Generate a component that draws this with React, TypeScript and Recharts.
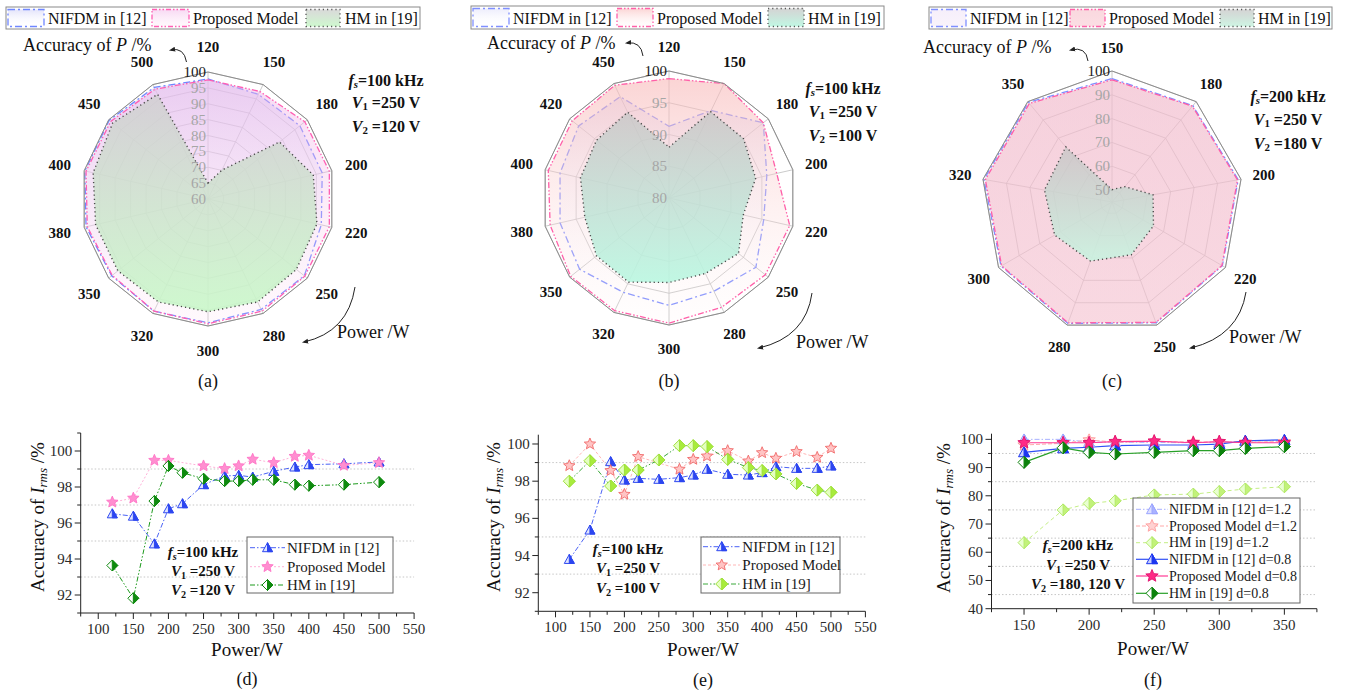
import React from 'react';
import {
  RadarChart, Radar, PolarGrid, PolarAngleAxis, PolarRadiusAxis,
  LineChart, Line, XAxis, YAxis, ReferenceLine,
} from 'recharts';

const FONT = '"Liberation Serif", "Times New Roman", Times, serif';

// ===== (a) radar: fs=100 kHz, V1=250 V, V2=120 V =====
const powerA = [120, 150, 180, 200, 220, 250, 280, 300, 320, 350, 380, 400, 450, 500];
const nifdmA = [97.8, 96.6, 97.0, 96.9, 96.6, 98.8, 98.6, 99.0, 99.2, 98.8, 99.4, 99.8, 99.8, 99.0];
const proposedA = [97.5, 97.6, 99.0, 99.2, 99.2, 99.0, 99.2, 99.3, 99.2, 98.6, 99.0, 99.4, 99.2, 98.4];
const hmA = [65.0, 70.1, 88.8, 94.0, 95.2, 95.6, 96.0, 95.5, 96.0, 96.3, 96.3, 97.1, 98.4, 96.6];
const rTicksA = [60, 65, 70, 75, 80, 85, 90, 95, 100];

// ===== (b) radar: fs=100 kHz, V1=250 V, V2=100 V =====
const powerB = [120, 150, 180, 200, 220, 250, 280, 300, 320, 350, 380, 400, 420, 450];
const nifdmB = [91.3, 95.3, 99.0, 95.8, 95.3, 97.5, 96.3, 96.9, 96.5, 98.0, 97.6, 97.6, 98.2, 97.7];
const proposedB = [98.8, 100.0, 99.0, 97.4, 99.5, 99.4, 99.1, 99.7, 99.7, 99.8, 99.2, 99.5, 99.5, 99.7];
const hmB = [88.0, 95.1, 95.0, 94.0, 92.0, 94.0, 93.2, 93.3, 94.7, 94.6, 93.6, 94.3, 94.6, 95.0];
const rTicksB = [80, 85, 90, 95, 100];

// ===== (c) radar: fs=200 kHz, V1=250 V, V2=180 V =====
const powerC = [150, 180, 200, 220, 250, 280, 300, 320, 350];
const nifdmC = [96.8, 97.8, 98.8, 98.5, 99.0, 99.2, 98.8, 99.6, 99.6];
const proposedC = [96.3, 97.5, 98.5, 98.3, 98.8, 99.0, 98.5, 99.0, 99.0];
const hmC = [50.2, 53.4, 62.5, 65.1, 68.6, 71.4, 72.8, 73.8, 75.2];
const rTicksC = [50, 60, 70, 80, 90, 100];

// ===== (d) line: fs=100 kHz, V2=120 V =====
const powerD = [120, 150, 180, 200, 220, 250, 280, 300, 320, 350, 380, 400, 450, 500];
const nifdmD = [96.51, 96.38, 94.84, 96.79, 97.07, 98.13, 98.61, 98.65, 98.55, 98.87, 99.11, 99.24, 99.29, 99.39];
const powerDProposed = [120, 150, 180, 200, 250, 280, 300, 320, 350, 380, 400, 450, 500];
const proposedD = [97.16, 97.38, 99.48, 99.48, 99.17, 99.02, 99.17, 99.54, 99.35, 99.70, 99.76, 99.20, 99.35];
const hmD = [93.64, 91.82, 97.22, 99.17, 98.79, 98.46, 98.33, 98.33, 98.40, 98.40, 98.13, 98.07, 98.13, 98.27];

// ===== (e) line: fs=100 kHz, V2=100 V =====
const powerE = [120, 150, 180, 200, 220, 250, 280, 300, 320, 350, 380, 400, 420, 450, 480, 500];
const nifdmE = [93.79, 95.37, 99.05, 98.06, 98.15, 98.10, 98.19, 98.33, 98.64, 98.37, 98.33, 98.46, 98.78, 98.69, 98.69, 98.82];
const powerEProposed = [120, 150, 180, 200, 220, 280, 300, 320, 350, 380, 400, 420, 450, 480, 500];
const proposedE = [98.83, 100.0, 98.57, 97.29, 99.32, 98.64, 99.17, 99.35, 99.64, 99.08, 99.53, 99.23, 99.59, 99.28, 99.77];
const hmE = [98.0, 99.1, 97.74, 98.6, 98.6, 99.14, 99.91, 99.91, 99.86, 99.17, 98.73, 98.57, 98.39, 97.88, 97.52, 97.40];

// ===== (f) line: fs=200 kHz, V2=180, 120 V =====
const powerF = [150, 180, 200, 220, 250, 280, 300, 320, 350];
const nifdm12F = [100.0, 100.0, 99.0, 99.0, 98.9, 98.8, 99.0, 99.3, 99.6];
const proposed12F = [98.0, 98.6, 99.8, 99.0, 99.2, 99.0, 99.1, 99.0, 99.2];
const hm12F = [63.4, 75.0, 77.3, 78.2, 80.3, 80.6, 81.5, 82.4, 83.2];
const nifdm08F = [95.4, 96.8, 97.2, 97.8, 98.0, 98.0, 98.3, 99.5, 99.8];
const proposed08F = [98.8, 98.8, 98.8, 99.2, 99.4, 98.8, 99.2, 98.8, 98.8];
const hm08F = [91.85, 97.0, 95.4, 94.8, 95.4, 96.0, 96.0, 96.8, 97.4];

// ===== axis ticks =====
const xTicksDE = [75, 100, 125, 150, 175, 200, 225, 250, 275, 300, 325, 350, 375, 400, 425, 450, 475, 500, 525, 550];
const xLabelsDE = [100, 150, 200, 250, 300, 350, 400, 450, 500, 550];
const yTicksD = [91, 92, 93, 94, 95, 96, 97, 98, 99, 100, 101];
const yTicksE = [91, 92, 93, 94, 95, 96, 97, 98, 99, 100];
const yLabelsDE = [92, 94, 96, 98, 100];
const gridDE = [93, 95, 97, 99];
const xTicksF = [125, 150, 175, 200, 225, 250, 275, 300, 325, 350, 375];
const xLabelsF = [150, 200, 250, 300, 350];
const yTicksF = [40, 45, 50, 55, 60, 65, 70, 75, 80, 85, 90, 95, 100];
const yLabelsF = [40, 50, 60, 70, 80, 90, 100];
const gridF = [45, 55, 65, 75, 85, 95];

// ---------------------------------------------------------------
type Grad = { top: string; topOp: number; bottom: string; botOp: number };

function GradDef({ id, g }: { id: string; g: Grad }) {
  return (
    <linearGradient id={id} x1="0" y1="0" x2="0" y2="1">
      <stop offset="0" stopColor={g.top} stopOpacity={g.topOp} />
      <stop offset="1" stopColor={g.bottom} stopOpacity={g.botOp} />
    </linearGradient>
  );
}

const NIFDM_DASH = '7 3 2 3';
const PROP_DASH = '6 2 1.5 2 1.5 2';
const HM_DASH = '1.2 3';

type RadarSpec = {
  id: string; L: number; T: number; W: number; H: number;
  cx: number; cy: number; R: number; labR: number;
  cats: number[]; nifdm: number[]; prop: number[]; hm: number[];
  domain: [number, number]; rticks: number[];
  n: Grad; m: Grad; h: Grad; nStroke: string; mStroke: string;
};

const radarA: RadarSpec = {
  id: 'ra', L: 0, T: 0, W: 450, H: 400, cx: 208, cy: 199, R: 127, labR: 152,
  cats: powerA, nifdm: nifdmA, prop: proposedA, hm: hmA, domain: [60, 100], rticks: rTicksA,
  n: { top: '#c8c8f6', topOp: 0.5, bottom: '#ffffff', botOp: 0.05 },
  m: { top: '#f0b4e8', topOp: 0.5, bottom: '#ffd8f0', botOp: 0.15 },
  h: { top: '#cfcfcf', topOp: 0.78, bottom: '#c8f8c8', botOp: 0.88 },
  nStroke: '#6f86ff', mStroke: '#ff5fb4',
};
const radarB: RadarSpec = {
  id: 'rb', L: 450, T: 0, W: 450, H: 400, cx: 219, cy: 198, R: 127, labR: 151,
  cats: powerB, nifdm: nifdmB, prop: proposedB, hm: hmB, domain: [80, 100], rticks: rTicksB,
  n: { top: '#d0d0f8', topOp: 0.4, bottom: '#ffffff', botOp: 0.0 },
  m: { top: '#f8b8b8', topOp: 0.6, bottom: '#fff0f0', botOp: 0.1 },
  h: { top: '#c6c6c6', topOp: 0.75, bottom: '#b8f7e0', botOp: 0.88 },
  nStroke: '#7f8fff', mStroke: '#ff5fa8',
};
const radarC: RadarSpec = {
  id: 'rc', L: 900, T: 0, W: 450, H: 400, cx: 212, cy: 202, R: 131, labR: 154,
  cats: powerC, nifdm: nifdmC, prop: proposedC, hm: hmC, domain: [45, 100], rticks: rTicksC,
  n: { top: '#e0c8f0', topOp: 0.3, bottom: '#e8d0f0', botOp: 0.25 },
  m: { top: '#f5b8c4', topOp: 0.55, bottom: '#f8bec8', botOp: 0.5 },
  h: { top: '#c4c4c4', topOp: 0.72, bottom: '#c8f4e0', botOp: 0.88 },
  nStroke: '#7f8fff', mStroke: '#ff5fa8',
};

function RadarPanel({ s }: { s: RadarSpec }) {
  const data = s.cats.map((c, i) => ({ p: String(c), n: s.nifdm[i], m: s.prop[i], h: s.hm[i] }));
  const angleTick = (props: any) => {
    const { x, y, payload } = props;
    const dx = x - s.cx;
    const dy = y - s.cy;
    const d = Math.hypot(dx, dy) || 1;
    return (
      <text x={s.cx + (dx / d) * s.labR} y={s.cy + (dy / d) * s.labR} textAnchor="middle"
        dominantBaseline="central" fontFamily={FONT} fontWeight={700} fontSize={15} fill="#111">
        {payload.value}
      </text>
    );
  };
  const radiusTick = (props: any) => {
    const { y, payload } = props;
    const top = payload.value === s.domain[1];
    return (
      <text x={s.cx - 2} y={y} textAnchor="end" dominantBaseline="central" fontFamily={FONT}
        fontSize={15} fill={top ? '#1a1a1a' : '#a6a6a6'}>
        {payload.value}
      </text>
    );
  };
  return (
    <div style={{ position: 'absolute', left: s.L, top: s.T, width: s.W, height: s.H }}>
      <RadarChart width={s.W} height={s.H} cx={s.cx} cy={s.cy} outerRadius={s.R} data={data}
        margin={{ top: 0, right: 0, bottom: 0, left: 0 }} style={{ fontFamily: FONT }}>
        <defs>
          <GradDef id={`${s.id}n`} g={s.n} />
          <GradDef id={`${s.id}m`} g={s.m} />
          <GradDef id={`${s.id}h`} g={s.h} />
        </defs>
        <PolarGrid gridType="polygon" stroke="#bdbdbd" strokeWidth={0.8} />
        <PolarAngleAxis dataKey="p" tick={angleTick} tickLine={false} axisLine={{ stroke: '#8c8c8c', strokeWidth: 1 }} />
        <PolarRadiusAxis angle={90} type="number" domain={s.domain} ticks={s.rticks as any}
          tickCount={s.rticks.length} allowDataOverflow axisLine={false} tickLine={false} tick={radiusTick} />
        <Radar dataKey="n" stroke={s.nStroke} strokeWidth={1.3} strokeDasharray={NIFDM_DASH}
          fill={`url(#${s.id}n)`} fillOpacity={1} isAnimationActive={false} />
        <Radar dataKey="m" stroke={s.mStroke} strokeWidth={1.3} strokeDasharray={PROP_DASH}
          fill={`url(#${s.id}m)`} fillOpacity={1} isAnimationActive={false} />
        <Radar dataKey="h" stroke="#4a4a4a" strokeWidth={1.4} strokeDasharray={HM_DASH}
          fill={`url(#${s.id}h)`} fillOpacity={1} isAnimationActive={false} />
      </RadarChart>
    </div>
  );
}

// ---------------------------------------------------------------
type MarkerStyle = { shape: 'tri' | 'star' | 'dia'; stroke: string; fill: string; half?: string; size: number };

function starPts(cx: number, cy: number, R: number): string {
  const r = R * 0.45;
  const pts: string[] = [];
  for (let i = 0; i < 10; i++) {
    const a = -Math.PI / 2 + (i * Math.PI) / 5;
    const rr = i % 2 === 0 ? R : r;
    pts.push(`${(cx + rr * Math.cos(a)).toFixed(2)},${(cy + rr * Math.sin(a)).toFixed(2)}`);
  }
  return pts.join(' ');
}

function Marker({ cx, cy, m }: { cx: number; cy: number; m: MarkerStyle }) {
  const s = m.size;
  if (m.shape === 'star') {
    return <polygon points={starPts(cx, cy, s)} fill={m.fill} stroke={m.stroke} strokeWidth={0.9} strokeLinejoin="round" />;
  }
  if (m.shape === 'tri') {
    const b = cy + s * 0.8;
    const t = cy - s;
    return (
      <g>
        <polygon points={`${cx},${t} ${cx + s},${b} ${cx - s},${b}`} fill={m.half ?? m.fill} stroke={m.stroke} strokeWidth={1} strokeLinejoin="round" />
        {m.half && <polygon points={`${cx},${t} ${cx + s},${b} ${cx},${b}`} fill={m.fill} stroke={m.stroke} strokeWidth={1} strokeLinejoin="round" />}
      </g>
    );
  }
  return (
    <g>
      <polygon points={`${cx},${cy - s} ${cx + s},${cy} ${cx},${cy + s} ${cx - s},${cy}`} fill={m.half ?? m.fill} stroke={m.stroke} strokeWidth={1} />
      {m.half && <polygon points={`${cx},${cy - s} ${cx + s},${cy} ${cx},${cy + s}`} fill={m.fill} stroke={m.stroke} strokeWidth={1} />}
    </g>
  );
}

type SeriesSpec = { key: string; x: number[]; y: number[]; stroke: string; dash?: string; width: number; marker: MarkerStyle; label: string };

// styles
const triBlue: MarkerStyle = { shape: 'tri', stroke: '#2c46f0', fill: '#2c46f0', half: '#dfe4ff', size: 5 };
const starPinkD: MarkerStyle = { shape: 'star', stroke: '#ff74c6', fill: '#ff8ed0', size: 6 };
const diaGreenD: MarkerStyle = { shape: 'dia', stroke: '#0e8a0e', fill: '#0e8a0e', half: '#ffffff', size: 5.5 };
const starRedE: MarkerStyle = { shape: 'star', stroke: '#f06a6a', fill: '#ffc4c4', size: 6 };
const diaLimeE: MarkerStyle = { shape: 'dia', stroke: '#9ee03a', fill: '#a8ec3c', half: '#e4ffc0', size: 6 };
const triLight: MarkerStyle = { shape: 'tri', stroke: '#9aa4ff', fill: '#aab2ff', half: '#dde0ff', size: 5.5 };
const starLight: MarkerStyle = { shape: 'star', stroke: '#ff9c9c', fill: '#ffd2d2', size: 6.5 };
const diaLight: MarkerStyle = { shape: 'dia', stroke: '#b4ea6a', fill: '#c2f27a', half: '#e8ffd0', size: 6 };
const triDark: MarkerStyle = { shape: 'tri', stroke: '#1c36f0', fill: '#1c36f0', half: '#c8d0ff', size: 5.5 };
const starMag: MarkerStyle = { shape: 'star', stroke: '#e0106c', fill: '#ff2a86', size: 6.5 };
const diaDark: MarkerStyle = { shape: 'dia', stroke: '#0c820c', fill: '#0c820c', half: '#ffffff', size: 6 };

const seriesD: SeriesSpec[] = [
  { key: 'nd', x: powerD, y: nifdmD, stroke: '#4a62f5', dash: '5 2 1.5 2', width: 1, marker: triBlue, label: 'NIFDM in [12]' },
  { key: 'pd', x: powerDProposed, y: proposedD, stroke: '#ffb0d8', dash: '2 2', width: 1, marker: starPinkD, label: 'Proposed Model' },
  { key: 'hd', x: powerD, y: hmD, stroke: '#1c9a1c', dash: '5 2 1.5 2 1.5 2', width: 1, marker: diaGreenD, label: 'HM in [19]' },
];
const seriesE: SeriesSpec[] = [
  { key: 'ne', x: powerE, y: nifdmE, stroke: '#4a62f5', dash: '5 2 1.5 2', width: 1, marker: triBlue, label: 'NIFDM in [12]' },
  { key: 'pe', x: powerEProposed, y: proposedE, stroke: '#ffb6b6', dash: '3 2', width: 1, marker: starRedE, label: 'Proposed Model' },
  { key: 'he', x: powerE, y: hmE, stroke: '#3aa83a', dash: '5 2 1.5 2 1.5 2', width: 1, marker: diaLimeE, label: 'HM in [19]' },
];
const seriesF: SeriesSpec[] = [
  { key: 'n12', x: powerF, y: nifdm12F, stroke: '#a8b0ff', dash: '5 2 1.5 2', width: 1, marker: triLight, label: 'NIFDM in [12] d=1.2' },
  { key: 'p12', x: powerF, y: proposed12F, stroke: '#ffa8a8', dash: '4 2', width: 1, marker: starLight, label: 'Proposed Model d=1.2' },
  { key: 'h12', x: powerF, y: hm12F, stroke: '#c4ee86', dash: '4 3', width: 1, marker: diaLight, label: 'HM in [19] d=1.2' },
  { key: 'n08', x: powerF, y: nifdm08F, stroke: '#3050f5', width: 1.2, marker: triDark, label: 'NIFDM in [12] d=0.8' },
  { key: 'p08', x: powerF, y: proposed08F, stroke: '#ff3a94', width: 1.2, marker: starMag, label: 'Proposed Model d=0.8' },
  { key: 'h08', x: powerF, y: hm08F, stroke: '#28a028', width: 1.2, marker: diaDark, label: 'HM in [19] d=0.8' },
];

type LineSpec = {
  L: number; T: number; W: number; H: number;
  plot: { l: number; r: number; t: number; b: number };
  xDomain: [number, number]; xTicks: number[]; xLabels: number[];
  yDomain: [number, number]; yTicks: number[]; yLabels: number[];
  grid: number[]; series: SeriesSpec[];
};

const lineD: LineSpec = {
  L: 0, T: 420, W: 445, H: 245, plot: { l: 80.7, r: 414.1, t: 433, b: 613 },
  xDomain: [75, 550], xTicks: xTicksDE, xLabels: xLabelsDE,
  yDomain: [91, 101], yTicks: yTicksD, yLabels: yLabelsDE, grid: gridDE, series: seriesD,
};
const lineE: LineSpec = {
  L: 450, T: 420, W: 445, H: 245, plot: { l: 538.3, r: 865.4, t: 434.7, b: 611.3 },
  xDomain: [75, 550], xTicks: xTicksDE, xLabels: xLabelsDE,
  yDomain: [91, 100.5], yTicks: yTicksE, yLabels: yLabelsDE, grid: gridDE, series: seriesE,
};
const lineF: LineSpec = {
  L: 900, T: 420, W: 445, H: 245, plot: { l: 991.5, r: 1316.9, t: 433.7, b: 608.7 },
  xDomain: [125, 375], xTicks: xTicksF, xLabels: xLabelsF,
  yDomain: [40, 102], yTicks: yTicksF, yLabels: yLabelsF, grid: gridF, series: seriesF,
};

function LinePanel({ s }: { s: LineSpec }) {
  const YW = 40;
  const XH = 30;
  const margin = {
    left: s.plot.l - s.L - YW,
    top: s.plot.t - s.T,
    right: s.L + s.W - s.plot.r,
    bottom: s.T + s.H - s.plot.b - XH,
  };
  const xTick = (props: any) => {
    const { x, y, payload } = props;
    const major = s.xLabels.includes(payload.value);
    return (
      <g>
        <line x1={x} x2={x} y1={y} y2={y + (major ? 6 : 3.5)} stroke="#222" strokeWidth={1} />
        {major && (
          <text x={x} y={y + 16} textAnchor="middle" dominantBaseline="central" fontFamily={FONT} fontSize={15} fill="#2a2a2a">
            {payload.value}
          </text>
        )}
      </g>
    );
  };
  const yTick = (props: any) => {
    const { x, y, payload } = props;
    const major = s.yLabels.includes(payload.value);
    return (
      <g>
        <line x1={x} x2={x - (major ? 6 : 3.5)} y1={y} y2={y} stroke="#222" strokeWidth={1} />
        {major && (
          <text x={x - 8.5} y={y} textAnchor="end" dominantBaseline="central" fontFamily={FONT} fontSize={15} fill="#2a2a2a">
            {payload.value}
          </text>
        )}
      </g>
    );
  };
  return (
    <div style={{ position: 'absolute', left: s.L, top: s.T, width: s.W, height: s.H }}>
      <LineChart width={s.W} height={s.H} margin={margin} style={{ fontFamily: FONT }}>
        <XAxis type="number" dataKey="p" domain={s.xDomain} ticks={s.xTicks} interval={0} allowDataOverflow
          tickSize={0} tickMargin={0} height={XH} axisLine={{ stroke: '#222', strokeWidth: 1 }} tickLine={false} tick={xTick} />
        <YAxis type="number" domain={s.yDomain} ticks={s.yTicks} interval={0} allowDataOverflow
          tickSize={0} tickMargin={0} width={YW} axisLine={{ stroke: '#222', strokeWidth: 1 }} tickLine={false} tick={yTick} />
        {s.grid.map((g) => (
          <ReferenceLine key={`g${g}`} y={g} stroke="#c6c6c6" strokeDasharray="1.5 2" strokeWidth={1} />
        ))}
        {s.series.map((ser) => (
          <Line key={ser.key} name={ser.label} data={ser.x.map((p, i) => ({ p, v: ser.y[i] }))} dataKey="v"
            type="linear" stroke={ser.stroke} strokeWidth={ser.width} strokeDasharray={ser.dash}
            dot={(dp: any) => <Marker key={`${ser.key}${dp.index}`} cx={dp.cx} cy={dp.cy} m={ser.marker} />}
            activeDot={false} isAnimationActive={false} />
        ))}
      </LineChart>
    </div>
  );
}

// ---------------------------------------------------------------
// Overlay decorations
function TopLegend({ id, x, y, w, h, boxes, texts, grads, strokes }: {
  id: string; x: number; y: number; w: number; h: number;
  boxes: [number, number][]; texts: number[]; grads: Grad[]; strokes: string[];
}) {
  const labels = ['NIFDM in [12]', 'Proposed Model', 'HM in [19]'];
  const dashes = [NIFDM_DASH, '5 2 1.5 2 1.5 2', '1.2 3'];
  return (
    <g>
      <defs>
        {grads.map((g, i) => <GradDef key={i} id={`${id}lg${i}`} g={g} />)}
      </defs>
      <rect x={x} y={y} width={w} height={h} fill="#fff" stroke="#8a8a8a" strokeWidth={1} />
      {boxes.map((b, i) => (
        <g key={i}>
          <rect x={b[0]} y={y + 2.5} width={b[1] - b[0]} height={h - 5} fill="#fff" />
          <rect x={b[0]} y={y + 2.5} width={b[1] - b[0]} height={h - 5} fill={`url(#${id}lg${i})`}
            stroke={strokes[i]} strokeWidth={1.3} strokeDasharray={dashes[i]} />
          <text x={texts[i]} y={y + h / 2 + 0.5} dominantBaseline="central" fontFamily={FONT} fontSize={16} fill="#111">
            {labels[i]}
          </text>
        </g>
      ))}
    </g>
  );
}

function CondText({ cx, y, lines, size }: { cx: number; y: number[]; lines: [string, string, string][]; size: number }) {
  return (
    <g>
      {lines.map((ln, i) => (
        <text key={i} x={cx} y={y[i]} textAnchor="middle" dominantBaseline="central" fontFamily={FONT}
          fontWeight={700} fontSize={size} fill="#111">
          <tspan fontStyle="italic">{ln[0]}</tspan>
          <tspan fontSize={size * 0.68} dy={4} fontStyle={i === 0 ? 'italic' : 'normal'}>{ln[1]}</tspan>
          <tspan dy={-4}>{ln[2]}</tspan>
        </text>
      ))}
    </g>
  );
}

function LineLegend({ x, y, w, h, rows, lx1, lx2, mx, tx, fs, series }: {
  x: number; y: number; w: number; h: number; rows: number[]; lx1: number; lx2: number; mx: number; tx: number; fs: number; series: SeriesSpec[];
}) {
  return (
    <g>
      <rect x={x} y={y} width={w} height={h} fill="#fff" stroke="#666" strokeWidth={1} />
      {series.map((s, i) => (
        <g key={s.key}>
          <line x1={lx1} x2={lx2} y1={rows[i]} y2={rows[i]} stroke={s.stroke} strokeWidth={s.width} strokeDasharray={s.dash} />
          <Marker cx={mx} cy={rows[i]} m={s.marker} />
          <text x={tx} y={rows[i]} dominantBaseline="central" fontFamily={FONT} fontSize={fs} fill="#1a1a1a">{s.label}</text>
        </g>
      ))}
    </g>
  );
}

function YTitle({ x, y }: { x: number; y: number }) {
  return (
    <text x={x} y={y} transform={`rotate(-90 ${x} ${y})`} textAnchor="middle" dominantBaseline="central"
      fontFamily={FONT} fontSize={19} fill="#111">
      Accuracy of <tspan fontStyle="italic">I</tspan>
      <tspan fontStyle="italic" fontSize={13} dy={5}>rms</tspan>
      <tspan dy={-5}> /%</tspan>
    </text>
  );
}

function Overlay() {
  const T = (x: number, y: number, str: React.ReactNode, size = 18, anchor: 'start' | 'middle' = 'start') => (
    <text x={x} y={y} textAnchor={anchor} dominantBaseline="central" fontFamily={FONT} fontSize={size} fill="#111">{str}</text>
  );
  const accP = (x: number, y: number) => T(x, y, <>Accuracy of <tspan fontStyle="italic">P</tspan> /%</>, 18);
  return (
    <svg width={1353} height={696} style={{ position: 'absolute', left: 0, top: 0, pointerEvents: 'none', fontFamily: FONT }}>
      <defs>
        <marker id="arrowHead" viewBox="0 0 10 10" refX="6" refY="5" markerWidth="7" markerHeight="7" orient="auto-start-reverse">
          <path d="M0,1.5 L9,5 L0,8.5 z" fill="#222" />
        </marker>
      </defs>

      {/* radar legends */}
      <TopLegend id="A" x={6} y={7} w={414} h={22} boxes={[[8, 44], [152, 189], [306, 340]]} texts={[48, 193, 345]}
        grads={[radarA.n, radarA.m, radarA.h]} strokes={[radarA.nStroke, radarA.mStroke, '#555']} />
      <TopLegend id="B" x={471} y={6} w={413} h={23} boxes={[[473, 509], [617, 653], [768, 804]]} texts={[513, 657, 808]}
        grads={[radarB.n, radarB.m, radarB.h]} strokes={[radarB.nStroke, radarB.mStroke, '#555']} />
      <TopLegend id="C" x={929} y={7} w={403} h={22} boxes={[[931, 966], [1070, 1105], [1220, 1254]]} texts={[970, 1109, 1258]}
        grads={[radarC.n, radarC.m, radarC.h]} strokes={[radarC.nStroke, radarC.mStroke, '#555']} />

      {accP(23, 45)}
      {accP(487, 43)}
      {accP(923, 47)}

      <CondText cx={386} y={[80, 102, 126]} size={16}
        lines={[['f', 's', '=100 kHz'], ['V', '1', ' =250 V'], ['V', '2', ' =120 V']]} />
      <CondText cx={843} y={[88, 111, 135]} size={16}
        lines={[['f', 's', '=100 kHz'], ['V', '1', ' =250 V'], ['V', '2', ' =100 V']]} />
      <CondText cx={1288} y={[96, 119, 143]} size={16}
        lines={[['f', 's', '=200 kHz'], ['V', '1', ' =250 V'], ['V', '2', ' =180 V']]} />

      {T(337, 332, 'Power /W', 18)}
      {T(796, 342, 'Power /W', 18)}
      {T(1229, 337, 'Power /W', 18)}

      {/* arrows */}
      <path d="M186.5,62 Q184,47 171,50" fill="none" stroke="#222" strokeWidth={1} markerEnd="url(#arrowHead)" />
      <path d="M355,287 Q348,332 304,342" fill="none" stroke="#222" strokeWidth={1} markerEnd="url(#arrowHead)" />
      <path d="M643,56 Q641,41 627,43" fill="none" stroke="#222" strokeWidth={1} markerEnd="url(#arrowHead)" />
      <path d="M812,293 Q806,337 759,348" fill="none" stroke="#222" strokeWidth={1} markerEnd="url(#arrowHead)" />
      <path d="M1088,61 Q1086,46 1071,50" fill="none" stroke="#222" strokeWidth={1} markerEnd="url(#arrowHead)" />
      <path d="M1246,292 Q1239,336 1191,348" fill="none" stroke="#222" strokeWidth={1} markerEnd="url(#arrowHead)" />

      {T(208, 381, '(a)', 18, 'middle')}
      {T(669, 381, '(b)', 18, 'middle')}
      {T(1112, 381, '(c)', 18, 'middle')}

      {/* line chart decorations */}
      <YTitle x={37} y={517} />
      <YTitle x={493} y={517} />
      <YTitle x={943} y={518} />
      {T(247, 649, 'Power/W', 19, 'middle')}
      {T(703, 649, 'Power/W', 19, 'middle')}
      {T(1153, 648, 'Power/W', 19, 'middle')}
      {T(247, 679, '(d)', 18, 'middle')}
      {T(703, 680, '(e)', 18, 'middle')}
      {T(1153, 680, '(f)', 18, 'middle')}

      <CondText cx={203} y={[551.7, 570.7, 590]} size={15}
        lines={[['f', 's', '=100 kHz'], ['V', '1', ' =250 V'], ['V', '2', ' =120 V']]} />
      <CondText cx={628} y={[549.3, 568.3, 588.3]} size={15}
        lines={[['f', 's', '=100 kHz'], ['V', '1', ' =250 V'], ['V', '2', ' =100 V']]} />
      <CondText cx={1078} y={[545, 565, 584.3]} size={15}
        lines={[['f', 's', '=200 kHz'], ['V', '1', ' =250 V'], ['V', '2', ' =180, 120 V']]} />

      <LineLegend x={247} y={537} w={146} h={56} rows={[547.7, 566.7, 585]} lx1={250} lx2={285} mx={267.5} tx={287} fs={15} series={seriesD} />
      <LineLegend x={701} y={537} w={139} h={56} rows={[546.7, 565, 584]} lx1={703} lx2={740} mx={721.7} tx={742.3} fs={15} series={seriesE} />
      <LineLegend x={1133} y={498} w={167} h={105} rows={[509.3, 526, 542.7, 559.3, 576, 593.3]} lx1={1136} lx2={1168} mx={1152} tx={1169} fs={14} series={seriesF} />
    </svg>
  );
}

export default function App() {
  return (
    <div style={{ position: 'absolute', left: 0, top: 0, width: 1353, height: 696, background: '#fff', overflow: 'hidden', fontFamily: FONT }}>
      <RadarPanel s={radarA} />
      <RadarPanel s={radarB} />
      <RadarPanel s={radarC} />
      <LinePanel s={lineD} />
      <LinePanel s={lineE} />
      <LinePanel s={lineF} />
      <Overlay />
    </div>
  );
}
